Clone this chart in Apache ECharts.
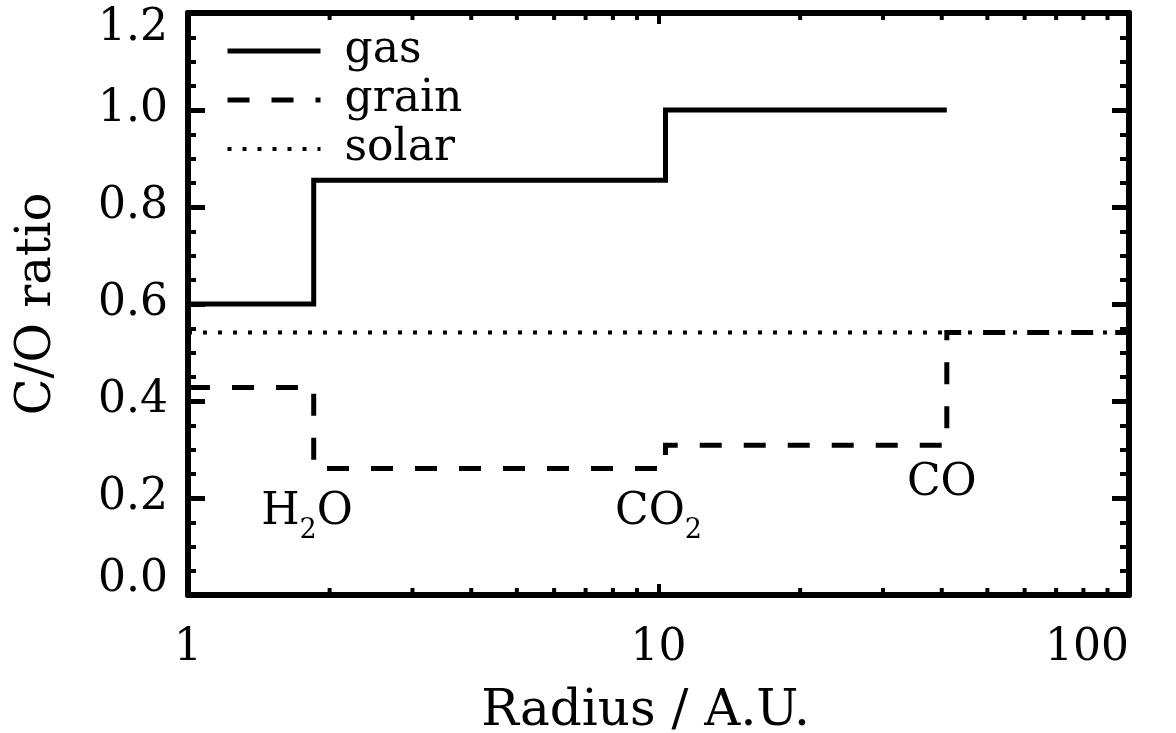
<!DOCTYPE html>
<html>
<head>
<meta charset="utf-8">
<script src="https://cdn.jsdelivr.net/npm/echarts@6/dist/echarts.min.js"></script>
<style>
  html, body { margin: 0; padding: 0; background: #fff; }
  #chart { width: 1176px; height: 733px; }
</style>
</head>
<body>
<div id="chart"></div>
<script>
// ---- data ----
var radiusEdges = [1, 1.85, 10.35, 41, 100];          // AU: inner edge, H2O, CO2, CO snowlines, outer edge
var gasCO = [0.60, 0.855, 1.00];                        // gas C/O in each zone (ends at CO snowline)
var grainCO = [0.428, 0.261, 0.309, 0.541];             // grain C/O in each zone
var solarCO = 0.541;
var snowLabels = ['H2O', 'CO2', 'CO'];
var snowLabelX = [1.79, 10.0, 40.0];
var snowLabelY = [0.170, 0.171, 0.230];
var yTicks = [0, 0.2, 0.4, 0.6, 0.8, 1.0, 1.2];
var xMinorTicks = [2, 3, 4, 5, 6, 7, 8, 9, 20, 30, 40, 50, 60, 70, 80, 90];
var legendNames = ['gas', 'grain', 'solar'];

var FONT = 'DejaVu Serif';

// build step data
var gasData = [];
for (var i = 0; i < gasCO.length; i++) gasData.push([radiusEdges[i], gasCO[i]]);
gasData.push([radiusEdges[gasCO.length], gasCO[gasCO.length - 1]]);
var grainData = [];
for (var j = 0; j < grainCO.length; j++) grainData.push([radiusEdges[j], grainCO[j]]);
grainData.push([radiusEdges[grainCO.length], grainCO[grainCO.length - 1]]);
var solarData = [[radiusEdges[0], solarCO], [radiusEdges[radiusEdges.length - 1], solarCO]];

var labelData = snowLabels.map(function (n, k) { return [snowLabelX[k], snowLabelY[k], n]; });
var minorBottom = xMinorTicks.map(function (v) { return [v, yTicks[0]]; });
var minorTop = xMinorTicks.map(function (v) { return [v, yTicks[yTicks.length - 1]]; });

function fmtLabel(s) {
  if (s === 'H2O') return '{m|H}{s|2}{m|O}';
  if (s === 'CO2') return '{m|CO}{s|2}';
  return '{m|' + s + '}';
}

var styles = {
  gas:   { color: '#000', width: 5, type: 'solid', cap: 'butt', join: 'miter' },
  grain: { color: '#000', width: 5, type: [22, 22], cap: 'butt', join: 'miter' },
  solar: { color: '#000', width: 4, type: [4, 11], cap: 'butt' }
};

var axisLineStyle = { color: '#000', width: 6 };

var option = {
  animation: false,
  backgroundColor: '#fff',
  grid: { left: 188, right: 47, top: 13, bottom: 138, containLabel: false, outerBoundsMode: 'none' },
  legend: {
    left: 225, top: 29, orient: 'vertical', padding: 0,
    itemWidth: 93, itemHeight: 20, itemGap: 5,
    itemStyle: { color: 'rgba(0,0,0,0)', borderWidth: 0, opacity: 0 },
    textStyle: { fontFamily: FONT, fontSize: 44, color: '#000', padding: [0, 0, 0, 19], lineHeight: 40 },
    data: legendNames.map(function (n) { return { name: n, lineStyle: styles[n] }; }),
    selectedMode: false
  },
  xAxis: [{
    type: 'log', logBase: 10, min: 1, max: 100,
    name: 'Radius / A.U.', nameLocation: 'middle', nameGap: 92,
    nameTextStyle: { fontFamily: FONT, fontSize: 50, color: '#000', padding: [0, 26, 0, 0] },
    axisLine: { show: true, onZero: false, lineStyle: axisLineStyle },
    axisTick: { show: true, inside: true, length: 11, lineStyle: { color: '#000', width: 4 } },
    axisLabel: {
      fontFamily: FONT, fontSize: 44, color: '#000', margin: 32,
      formatter: function (v) { return String(Math.round(v)); },
      alignMaxLabel: 'right', alignMinLabel: 'center'
    },
    splitLine: { show: false }
  }, {
    type: 'log', logBase: 10, min: 1, max: 100, position: 'top',
    axisLine: { show: true, onZero: false, lineStyle: axisLineStyle },
    axisTick: { show: true, inside: true, length: 11, lineStyle: { color: '#000', width: 4 } },
    axisLabel: { show: false },
    splitLine: { show: false }
  }],
  yAxis: [{
    type: 'value', min: 0, max: 1.2, interval: 0.2,
    name: 'C/O ratio', nameLocation: 'middle', nameGap: 126, nameRotate: 90,
    nameTextStyle: { fontFamily: FONT, fontSize: 48, color: '#000' },
    axisLine: { show: true, onZero: false, lineStyle: axisLineStyle },
    axisTick: { show: true, inside: true, length: 17, lineStyle: { color: '#000', width: 5 } },
    minorTick: { show: true, splitNumber: 4, length: 8, lineStyle: { color: '#000', width: 4 } },
    axisLabel: {
      fontFamily: FONT, fontSize: 44, lineHeight: 31, color: '#000', margin: 20,
      formatter: function (v) { return v.toFixed(1); },
      verticalAlignMinLabel: 'bottom', verticalAlignMaxLabel: 'top'
    },
    splitLine: { show: false }, minorSplitLine: { show: false }
  }, {
    type: 'value', min: 0, max: 1.2, interval: 0.2, position: 'right',
    axisLine: { show: true, onZero: false, lineStyle: axisLineStyle },
    axisTick: { show: true, inside: true, length: 17, lineStyle: { color: '#000', width: 5 } },
    minorTick: { show: true, splitNumber: 4, length: 9, lineStyle: { color: '#000', width: 4 } },
    axisLabel: { show: false },
    splitLine: { show: false }
  }],
  series: [{
    name: 'gas', type: 'line', step: 'end', data: gasData,
    symbol: 'none', color: '#000', lineStyle: styles.gas, z: 5
  }, {
    name: 'grain', type: 'line', step: 'end', data: grainData,
    symbol: 'none', color: '#000', lineStyle: styles.grain, z: 5
  }, {
    name: 'solar', type: 'line', data: solarData,
    symbol: 'none', color: '#000', lineStyle: styles.solar, z: 4
  }, {
    name: 'labels', type: 'scatter', data: labelData, symbolSize: 0, silent: true,
    itemStyle: { opacity: 1, color: '#000' },
    label: {
      show: true, position: 'inside', color: '#000', opacity: 1, textBorderWidth: 0, textBorderColor: 'transparent',
      formatter: function (p) { return fmtLabel(p.data[2]); },
      rich: {
        m: { fontFamily: FONT, fontSize: 44, lineHeight: 44, color: '#000', verticalAlign: 'top', textBorderWidth: 0 },
        s: { fontFamily: FONT, fontSize: 27, lineHeight: 27, color: '#000', verticalAlign: 'top', padding: [27, 0, 0, 0], textBorderWidth: 0 }
      }
    },
    z: 6
  }, {
    name: 'minorBottom', type: 'scatter', data: minorBottom, silent: true, clip: false,
    symbol: 'rect', symbolSize: [4, 7], symbolOffset: [0, -3.5],
    itemStyle: { color: '#000', opacity: 1 }, z: 7
  }, {
    name: 'minorTop', type: 'scatter', data: minorTop, silent: true, clip: false,
    symbol: 'rect', symbolSize: [4, 7], symbolOffset: [0, 3.5],
    itemStyle: { color: '#000', opacity: 1 }, z: 7
  }]
};

var chart = echarts.init(document.getElementById('chart'), null, { renderer: 'canvas' });
chart.setOption(option);
</script>
</body>
</html>
